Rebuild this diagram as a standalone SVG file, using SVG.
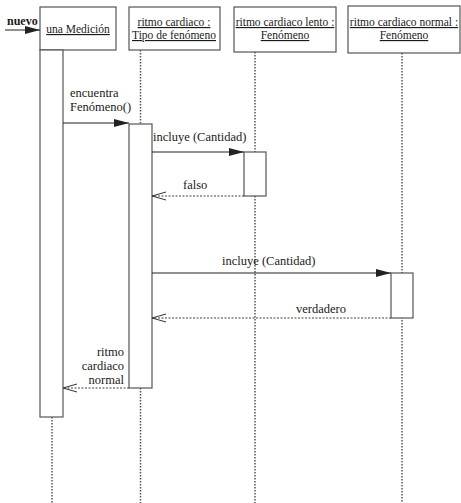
<svg xmlns="http://www.w3.org/2000/svg" width="461" height="503" viewBox="0 0 461 503">
<style>
text{font-family:"Liberation Serif","DejaVu Serif",serif;fill:#1a1a1a}
.obj{fill:#fff;stroke:#555;stroke-width:1.2}
.act{fill:#fff;stroke:#555;stroke-width:1.2}
.life{stroke:#555;stroke-width:1.5;stroke-dasharray:1.5 1.5;fill:none}
.call{stroke:#222;stroke-width:1.1;fill:none}
.ret{stroke:#444;stroke-width:1.1;stroke-dasharray:2 1.5;fill:none}
.lbl{font-size:11.5px;text-decoration:underline;text-anchor:middle}
.msg{font-size:12.5px}
</style>
<defs>
<marker id="filled" markerWidth="16" markerHeight="10" refX="15" refY="5" orient="auto" markerUnits="userSpaceOnUse">
<path d="M0,1 L15,5 L0,9 Z" fill="#222"/>
</marker>
<marker id="open" markerWidth="16" markerHeight="10" refX="15" refY="5" orient="auto" markerUnits="userSpaceOnUse">
<path d="M1,1 L15,5 L1,9" fill="none" stroke="#333" stroke-width="1"/>
</marker>
</defs>
<rect width="461" height="503" fill="#fff"/>
<g id="lifelines">
<line class="life" x1="52" y1="417" x2="52" y2="503"/>
<line class="life" x1="140.5" y1="50" x2="140.5" y2="124"/>
<line class="life" x1="140.5" y1="388" x2="140.5" y2="503"/>
<line class="life" x1="255" y1="52" x2="255" y2="503"/>
<line class="life" x1="402" y1="53" x2="402" y2="503"/>
</g>
<g id="medicion">
<rect class="obj" x="40" y="7" width="76" height="43"/>
<text class="lbl" x="78" y="33">una Medición</text>
<rect class="act" x="40" y="50" width="23" height="367"/>
</g>
<g id="tipo">
<rect class="obj" x="129" y="7" width="91" height="43"/>
<text class="lbl" x="174" y="26">ritmo cardiaco :</text>
<text class="lbl" x="174" y="39">Tipo de fenómeno</text>
<rect class="act" x="129" y="124" width="23" height="264"/>
</g>
<g id="lento">
<rect class="obj" x="234" y="7" width="102" height="45"/>
<text class="lbl" x="285" y="26">ritmo cardiaco lento :</text>
<text class="lbl" x="285" y="39">Fenómeno</text>
<rect class="act" x="244" y="152" width="22" height="44"/>
</g>
<g id="normal">
<rect class="obj" x="348" y="6" width="112" height="47"/>
<text class="lbl" x="404" y="26">ritmo cardiaco normal :</text>
<text class="lbl" x="404" y="39">Fenómeno</text>
<rect class="act" x="391" y="273" width="22" height="45"/>
</g>
<g id="connectors">
<line class="call" x1="5" y1="30" x2="40" y2="30" marker-end="url(#filled)"/>
<line class="call" x1="63" y1="123" x2="129" y2="123" marker-end="url(#filled)"/>
<line class="call" x1="152" y1="152" x2="244" y2="152" marker-end="url(#filled)"/>
<line class="ret" x1="244" y1="196" x2="152" y2="196" marker-end="url(#open)"/>
<line class="call" x1="152" y1="273" x2="391" y2="273" marker-end="url(#filled)"/>
<line class="ret" x1="391" y1="318" x2="152" y2="318" marker-end="url(#open)"/>
<line class="ret" x1="129" y1="388" x2="63" y2="388" marker-end="url(#open)"/>
</g>
<g id="labels">
<text x="7" y="25" font-weight="bold" style="font-size:12px">nuevo</text>
<text class="msg" x="70" y="97">encuentra</text>
<text class="msg" x="70" y="111">Fenómeno()</text>
<text class="msg" x="153" y="141">incluye (Cantidad)</text>
<text class="msg" x="183" y="189">falso</text>
<text class="msg" x="222" y="265">incluye (Cantidad)</text>
<text class="msg" x="296" y="313">verdadero</text>
<text class="msg" x="124" y="356" text-anchor="end">ritmo</text>
<text class="msg" x="124" y="370" text-anchor="end">cardiaco</text>
<text class="msg" x="124" y="384" text-anchor="end">normal</text>
</g>
</svg>
